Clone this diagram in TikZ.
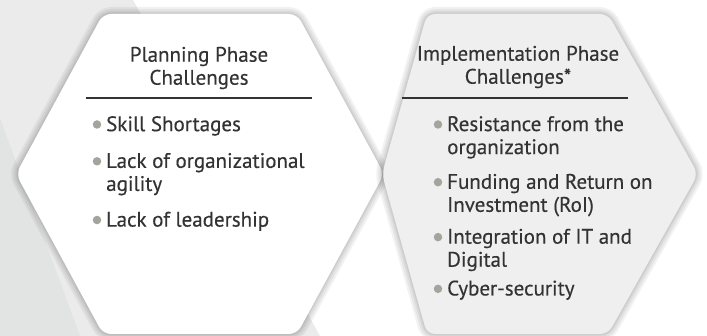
\documentclass[tikz,border=0pt]{standalone}
\usepackage{fontspec}
\setmainfont[FakeBold=0.35]{PT Sans}
\usetikzlibrary{positioning}

\definecolor{textgray}{HTML}{333333}
\definecolor{dotgray}{HTML}{A4A49C}
\definecolor{hexgray}{HTML}{EFEFEF}
\definecolor{bandgray}{HTML}{EBEBEB}
\definecolor{leftgray}{HTML}{E2E3E3}

\tikzset{
  hexface/.style={rounded corners=8pt},
  hexhalo/.style={draw=black, opacity=0.05, line join=round, rounded corners=8pt},
  title/.style={align=center, inner sep=0pt, text=textgray, font=\fontsize{21}{23}\selectfont},
  item/.style={align=left, inner sep=0pt, anchor=north west, text=textgray, font=\fontsize{21}{23}\selectfont},
  dot/.style={circle, fill=dotgray, inner sep=0pt, minimum size=8.5pt},
  rule/.style={draw=textgray, line width=1.6pt}
}

\begin{document}
\begin{tikzpicture}[x=1pt,y=-1pt]
  \useasboundingbox (0,0) rectangle (707,336);

  % background
  \fill[white] (0,0) rectangle (707,336);
  \fill[bandgray] (0,0) -- (133,0) -- (320,336) -- (0,336) -- cycle;
  \fill[leftgray] (0,118) -- (80,336) -- (0,336) -- cycle;

  % corners of the two hexagons
  \coordinate (aw) at (16,174);
  \coordinate (anw) at (103,14);
  \coordinate (ane) at (297,14);
  \coordinate (ae) at (384,174);
  \coordinate (ase) at (297,334);
  \coordinate (asw) at (103,334);

  \coordinate (bw) at (382,174);
  \coordinate (bnw) at (427,14);
  \coordinate (bne) at (608,14);
  \coordinate (be) at (698,174);
  \coordinate (bse) at (608,334);
  \coordinate (bsw) at (427,334);

  % planning hexagon
  \foreach \w in {14,10,6,3}
    \draw[hexhalo, line width=\w pt] (aw) -- (anw) -- (ane) -- (ae) -- (ase) -- (asw) -- cycle;
  \fill[hexface, white] (aw) -- (anw) -- (ane) -- (ae) -- (ase) -- (asw) -- cycle;

  % implementation hexagon
  \foreach \w in {14,10,6,3}
    \draw[hexhalo, line width=\w pt] (bw) -- (bnw) -- (bne) -- (be) -- (bse) -- (bsw) -- cycle;
  \fill[hexface, hexgray] (bw) -- (bnw) -- (bne) -- (be) -- (bse) -- (bsw) -- cycle;

  % planning phase
  \node[title] (plan) at (199,68) {Planning Phase\\Challenges};
  \coordinate (plw) at (86,98);
  \coordinate (ple) at (312,98);
  \draw[rule] (plw) -- (ple);

  \node[item] (p1) at (106,116) {Skill Shortages};
  \node[item, below=17pt of p1.south west, anchor=north west] (p2) {Lack of organizational\\agility};
  \node[item, below=16pt of p2.south west, anchor=north west] (p3) {Lack of leadership};

  \node[dot] (pd1) at ([xshift=-9pt,yshift=-8.5pt]p1.north west) {};
  \node[dot] (pd2) at ([xshift=-9pt,yshift=-8.5pt]p2.north west) {};
  \node[dot] (pd3) at ([xshift=-9pt,yshift=-8.5pt]p3.north west) {};

  % implementation phase
  \node[title] (impl) at (518,67) {Implementation Phase\\Challenges*};
  \coordinate (ilw) at (402,98);
  \coordinate (ile) at (628,98);
  \draw[rule] (ilw) -- (ile);

  \node[item] (i1) at (447,116) {Resistance from the\\organization};
  \node[item, below=15pt of i1.south west, anchor=north west] (i2) {Funding and Return on\\Investment (RoI)};
  \node[item, below=12pt of i2.south west, anchor=north west] (i3) {Integration of IT and\\Digital};
  \node[item, below=9pt of i3.south west, anchor=north west] (i4) {Cyber-security};

  \node[dot] (id1) at ([xshift=-9pt,yshift=-8.5pt]i1.north west) {};
  \node[dot] (id2) at ([xshift=-9pt,yshift=-8.5pt]i2.north west) {};
  \node[dot] (id3) at ([xshift=-9pt,yshift=-8.5pt]i3.north west) {};
  \node[dot] (id4) at ([xshift=-9pt,yshift=-8.5pt]i4.north west) {};
\end{tikzpicture}
\end{document}
